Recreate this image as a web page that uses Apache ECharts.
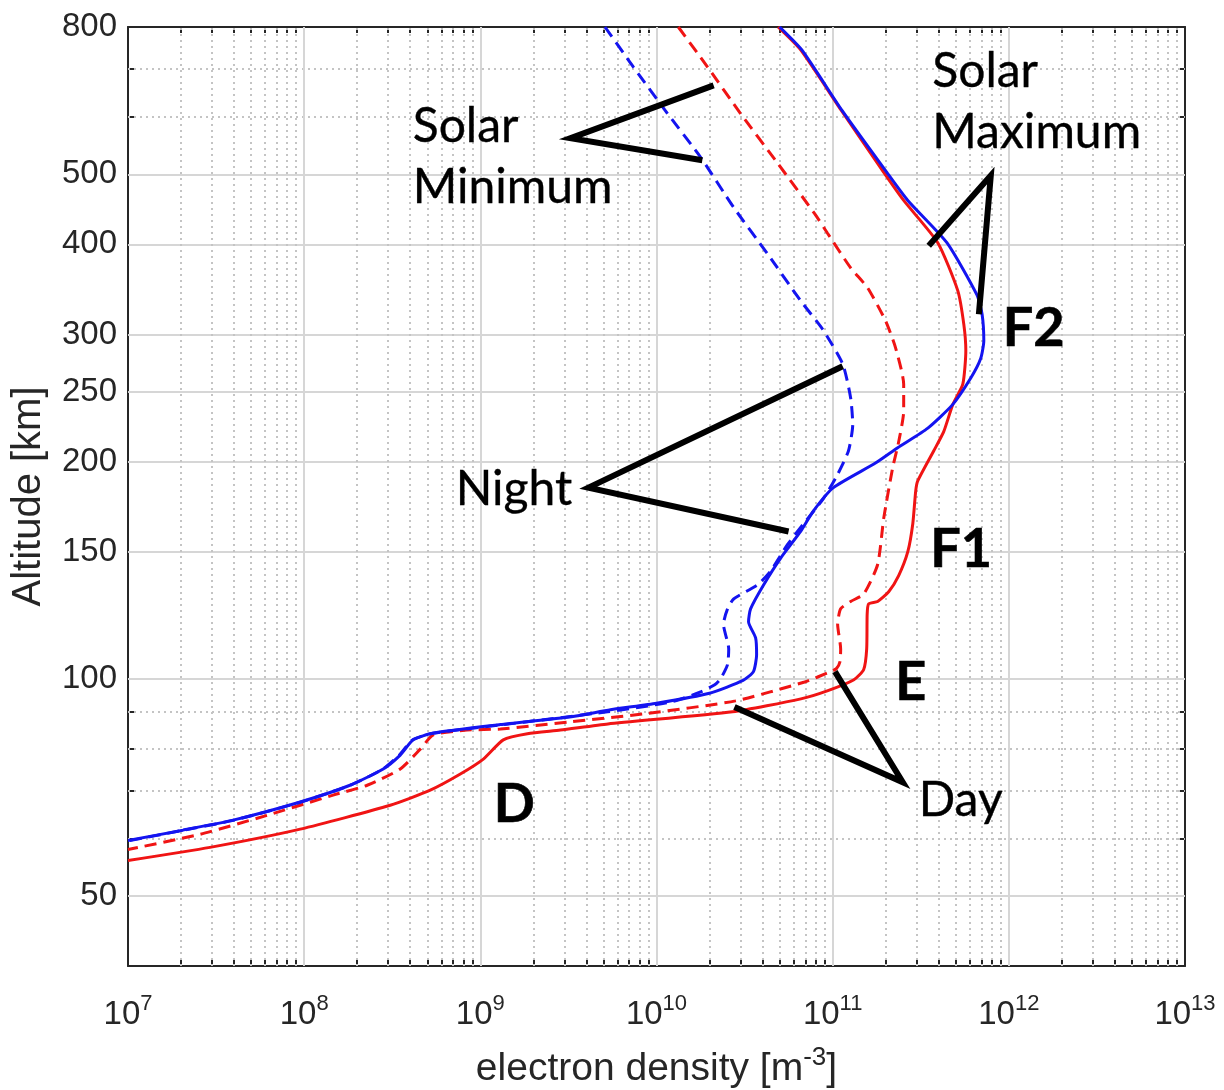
<!DOCTYPE html>
<html>
<head>
<meta charset="utf-8">
<title>Electron density profiles</title>
<script src="https://cdn.jsdelivr.net/npm/echarts@6/dist/echarts.min.js"></script>
<style>
  html, body { margin: 0; padding: 0; background: #ffffff; }
  #chart { width: 1224px; height: 1090px; }
</style>
</head>
<body>
<div id="chart"></div>
<script>
// Axis tick values
const densityTicks = [1e7, 1e8, 1e9, 1e10, 1e11, 1e12, 1e13];
const altitudeTicks = [50, 100, 150, 200, 250, 300, 400, 500, 800];
const altitudeMinor = [60, 70, 80, 90, 600, 700];

// Profiles as [electron density (m^-3), altitude (km)]
const dayMax = [
  [4.9e10, 800], [6.6e10, 743], [1.12e11, 613], [1.95e11, 503], [2.53e11, 460],
  [3.95e11, 402], [5.13e11, 345], [5.55e11, 310], [5.7e11, 285], [5.48e11, 256],
  [4.81e11, 240], [4.27e11, 220], [3.75e11, 207], [3.04e11, 188], [2.96e11, 182],
  [2.85e11, 164], [2.67e11, 150], [2.37e11, 139], [2.08e11, 132], [1.8e11, 128],
  [1.6e11, 127], [1.57e11, 123], [1.56e11, 110], [1.5e11, 103], [1.32e11, 99.7],
  [9.4e10, 96.3], [6.6e10, 93.8], [2.7e10, 90], [5.3e9, 86.6], [2.85e9, 84.9],
  [1.85e9, 83.9], [1.35e9, 82.3], [1.04e9, 77.4], [7.7e8, 73.8], [5.2e8, 70.1],
  [3.08e8, 66.8], [9.5e7, 61.9], [2.92e7, 58.4], [1.0e7, 56.0]
];
const dayMin = [
  [1.33e10, 800], [1.95e10, 704], [3.0e10, 607], [4.87e10, 518], [7.9e10, 441],
  [9.37e10, 414], [1.265e11, 371], [1.58e11, 348], [2.0e11, 313], [2.28e11, 287],
  [2.53e11, 256], [2.53e11, 235], [2.37e11, 213], [2.19e11, 196], [1.95e11, 167],
  [1.8e11, 144], [1.5e11, 131], [1.265e11, 128], [1.11e11, 125], [1.067e11, 119],
  [1.11e11, 110], [1.1e11, 105.6], [1.05e11, 103.3], [9.74e10, 102.3], [6.93e10, 99],
  [2.81e10, 93.2], [8.43e9, 89.4], [3.29e9, 87.2], [1.3e9, 85.2], [8.4e8, 84.9],
  [5.41e8, 83.6], [4.56e8, 79.9], [3.51e8, 75], [2.28e8, 71.2], [1.46e8, 69.0],
  [6.17e7, 64.7], [2.57e7, 60.9], [1.0e7, 58.0]
];
const nightMax = [
  [5.0e10, 800], [6.7e10, 743], [1.13e11, 613], [2.03e11, 503], [2.67e11, 460],
  [4.45e11, 402], [6.6e11, 340], [7.05e11, 320], [7.21e11, 294], [6.93e11, 278],
  [6.08e11, 261], [4.81e11, 240], [3.47e11, 222.5], [2.34e11, 209], [1.75e11, 199],
  [1.01e11, 184], [7.8e10, 171], [6.58e10, 160], [5.07e10, 147], [4.06e10, 135],
  [3.42e10, 125], [3.33e10, 120], [3.65e10, 114], [3.7e10, 108], [3.55e10, 102.3],
  [3.1e10, 99.5], [2.0e10, 95.5], [1.0e10, 92.5], [5.48e9, 90.6], [3.29e9, 88.6],
  [1.3e9, 86.4], [5.41e8, 84.1], [4.16e8, 82.3], [3.51e8, 78.4], [2.81e8, 75],
  [1.82e8, 71.2], [9.5e7, 67.5], [3.95e7, 63.7], [2.05e7, 61.7], [1.0e7, 59.7]
];
const nightMin = [
  [5.1e9, 800], [7.4e9, 704], [1.155e10, 607], [1.78e10, 528], [2.74e10, 450],
  [4.27e10, 388], [6.58e10, 334], [8.77e10, 305], [1.14e11, 273], [1.265e11, 245],
  [1.3e11, 225], [1.23e11, 207], [1.067e11, 192], [8.9e10, 178], [6.84e10, 164],
  [5.55e10, 153.5], [4.44e10, 141], [3.75e10, 135], [2.74e10, 129], [2.53e10, 125],
  [2.4e10, 119], [2.57e10, 110], [2.53e10, 104.6], [2.31e10, 100], [2.14e10, 98.1],
  [1.78e10, 95.9], [1.217e10, 92.9], [5.27e9, 90], [1.3e9, 86.3], [5.3e8, 84.0],
  [4.1e8, 82.2], [3.45e8, 78.3], [2.78e8, 74.9], [1.8e8, 71.1], [9.4e7, 67.4],
  [3.9e7, 63.6], [2.0e7, 61.6], [1.0e7, 59.6]
];

// Callout pointers (arm end, vertex, arm end)
const pointerSolarMin = [[2.11e10, 664], [3.25e9, 561], [1.82e10, 523]];
const pointerSolarMax = [[3.51e11, 398], [7.9e11, 498], [6.76e11, 320]];
const pointerNight = [[1.14e11, 271], [4.11e9, 184], [5.62e10, 160]];
const pointerDay = [[1.03e11, 102.3], [2.5e11, 71.9], [2.77e10, 91.4]];

// Annotation texts, anchored at their left / vertical middle
const notes = [
  { text: 'Solar\nMinimum', at: [4.16e8, 528], bold: false },
  { text: 'Solar\nMaximum', at: [3.7e11, 628], bold: false },
  { text: 'Night', at: [7.3e8, 182.5], bold: false },
  { text: 'Day', at: [3.1e11, 67.7], bold: false },
  { text: 'F2', at: [9.3e11, 305], bold: true },
  { text: 'F1', at: [3.6e11, 151], bold: true },
  { text: 'E', at: [2.28e11, 98.7], bold: true },
  { text: 'D', at: [1.2e9, 66.8], bold: true }
];

// Minor grid positions at 2..9 within each decade
const densityMinor = [];
for (let i = 0; i < densityTicks.length - 1; i++) {
  for (let k = 2; k <= 9; k++) densityMinor.push(k * densityTicks[i]);
}

const AXIS_COLOR = '#262626';
const TICK_FONT = 'Liberation Sans, Arial, sans-serif';
const NOTE_FONT = 'Lato, "Open Sans", sans-serif';
const RED = '#f01414';
const BLUE = '#1414f0';

const axisLineStyle = { color: AXIS_COLOR, width: 2 };

function xAxisDef(position, ticks, len, withLine, withLabels) {
  const ax = {
    type: 'log', logBase: 10, min: 1e7, max: 1e13, position: position,
    axisLine: { show: withLine, onZero: false, lineStyle: axisLineStyle },
    axisTick: { show: true, inside: true, length: len, customValues: ticks, lineStyle: axisLineStyle },
    axisLabel: { show: false },
    splitLine: { show: false }
  };
  if (withLabels) {
    ax.axisLabel = {
      show: true, customValues: densityTicks, margin: 27,
      formatter: v => '{b|10}{s|' + Math.round(Math.log10(v)) + '}',
      rich: {
        b: { fontFamily: TICK_FONT, fontSize: 33, color: AXIS_COLOR, lineHeight: 44 },
        s: { fontFamily: TICK_FONT, fontSize: 22, color: AXIS_COLOR, verticalAlign: 'top', lineHeight: 24 }
      }
    };
    ax.name = '{n|electron density [m}{s|-3}{n|]}';
    ax.nameLocation = 'middle';
    ax.nameGap = 79;
    ax.nameTextStyle = {
      rich: {
        n: { fontFamily: TICK_FONT, fontSize: 39, color: AXIS_COLOR, lineHeight: 48 },
        s: { fontFamily: TICK_FONT, fontSize: 26, color: AXIS_COLOR, verticalAlign: 'top', lineHeight: 26 }
      }
    };
  }
  return ax;
}

function yAxisDef(position, ticks, len, withLine, withLabels) {
  const ax = {
    type: 'log', logBase: 10, min: 40, max: 800, position: position,
    axisLine: { show: withLine, onZero: false, lineStyle: axisLineStyle },
    axisTick: { show: true, inside: true, length: len, customValues: ticks, lineStyle: axisLineStyle },
    axisLabel: { show: false },
    splitLine: { show: false }
  };
  if (withLabels) {
    ax.axisLabel = {
      show: true, customValues: altitudeTicks, margin: 11,
      fontFamily: TICK_FONT, fontSize: 33, color: AXIS_COLOR
    };
    ax.name = 'Altitude [km]';
    ax.nameLocation = 'middle';
    ax.nameGap = 79;
    ax.nameTextStyle = { fontFamily: TICK_FONT, fontSize: 40, color: AXIS_COLOR };
  }
  return ax;
}

// Grid lines: solid at labelled values, dotted at the 2..9 subdivisions
const solidGrid = { color: '#d6d6d6', width: 2, type: 'solid' };
const dottedGrid = { color: '#c4c4c4', width: 2, type: [2, 4] };
const gridLines = [];
altitudeTicks.filter(v => v < 800).forEach(v => gridLines.push({ yAxis: v, lineStyle: solidGrid }));
altitudeMinor.forEach(v => gridLines.push({ yAxis: v, lineStyle: dottedGrid }));
densityTicks.slice(1, -1).forEach(v => gridLines.push({ xAxis: v, lineStyle: solidGrid }));
densityMinor.forEach(v => gridLines.push({ xAxis: v, lineStyle: dottedGrid }));

function profile(name, data, color, dashed) {
  return {
    name: name, type: 'line', data: data, xAxisIndex: 0, yAxisIndex: 0,
    showSymbol: false, symbol: 'none', smooth: 0.2, z: 3,
    lineStyle: { color: color, width: 3, type: dashed ? [12, 7] : 'solid' },
    silent: true
  };
}

function pointer(name, data) {
  return {
    name: name, type: 'line', data: data, xAxisIndex: 0, yAxisIndex: 0,
    showSymbol: false, symbol: 'none', z: 4, silent: true,
    lineStyle: { color: '#000000', width: 6, join: 'miter', cap: 'butt' }
  };
}

const chart = echarts.init(document.getElementById('chart'), null, { renderer: 'canvas' });

chart.setOption({
  animation: false,
  backgroundColor: '#ffffff',
  grid: { left: 128, top: 27, width: 1057, height: 939, containLabel: false, outerBoundsMode: 'none' },
  xAxis: [
    xAxisDef('bottom', densityTicks, 11, true, true),
    xAxisDef('bottom', densityMinor, 6, false, false),
    xAxisDef('top', densityTicks, 11, true, false),
    xAxisDef('top', densityMinor, 6, false, false)
  ],
  yAxis: [
    yAxisDef('left', altitudeTicks, 11, true, true),
    yAxisDef('left', altitudeMinor, 6, false, false),
    yAxisDef('right', altitudeTicks, 11, true, false),
    yAxisDef('right', altitudeMinor, 6, false, false)
  ],
  series: [
    {
      name: 'grid', type: 'line', data: [], xAxisIndex: 0, yAxisIndex: 0, silent: true, z: 1,
      markLine: {
        silent: true, symbol: ['none', 'none'], label: { show: false }, z: 1, animation: false,
        data: gridLines
      }
    },
    profile('Day, solar minimum', dayMin, RED, true),
    profile('Day, solar maximum', dayMax, RED, false),
    profile('Night, solar minimum', nightMin, BLUE, true),
    profile('Night, solar maximum', nightMax, BLUE, false),
    pointer('Solar minimum', pointerSolarMin),
    pointer('Solar maximum', pointerSolarMax),
    pointer('Night', pointerNight),
    pointer('Day', pointerDay),
    {
      name: 'labels', type: 'scatter', xAxisIndex: 0, yAxisIndex: 0, z: 6, silent: true,
      symbolSize: 1, itemStyle: { color: 'rgba(0,0,0,0)' },
      data: notes.map(n => ({
        value: n.at,
        label: {
          show: true, formatter: n.text, position: [0, 0], align: 'left', verticalAlign: 'middle',
          fontFamily: NOTE_FONT, color: '#000000', opacity: 1,
          textBorderColor: '#000000', textBorderWidth: n.bold ? 0.6 : 0.35,
          fontSize: n.bold ? 54 : 48, fontWeight: n.bold ? 'bold' : 'normal',
          lineHeight: 61
        }
      }))
    }
  ]
});
</script>
</body>
</html>
